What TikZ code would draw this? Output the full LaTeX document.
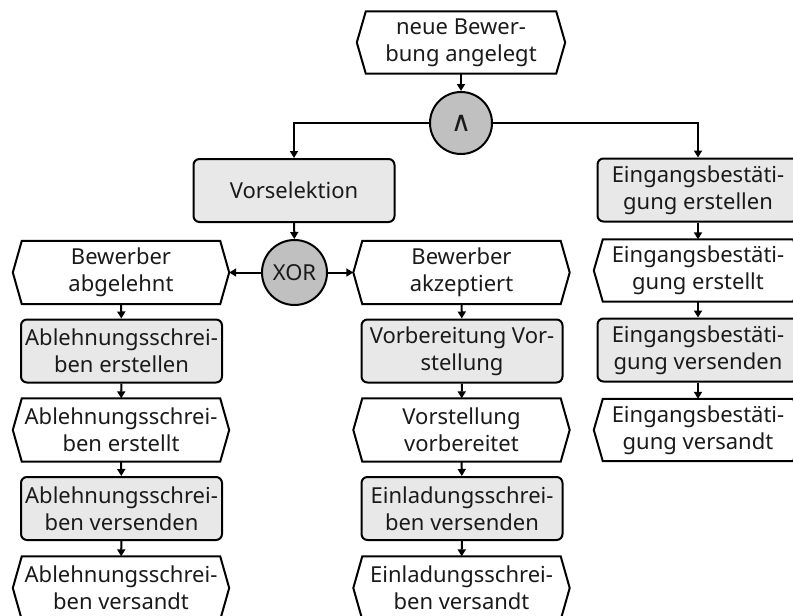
\documentclass[tikz,border=0pt]{standalone}
\usepackage{fontspec}
\setmainfont{Noto Sans}
\newfontfamily\symfont{DejaVu Sans}
\usetikzlibrary{arrows.meta}
\definecolor{boxfill}{HTML}{E8E8E8}
\definecolor{gatefill}{HTML}{C0C0C0}
\definecolor{txt}{HTML}{1A1A1A}
\begin{document}
\begin{tikzpicture}[x=1pt,y=-1pt,
  font=\fontsize{22}{27}\selectfont,
  every node/.style={text=txt, align=center, inner sep=0pt},
  fnbox/.style={draw=black, line width=2pt, fill=boxfill, rounded corners=6pt,
    minimum width=201pt, minimum height=63pt},
  evbox/.style={minimum width=216pt, minimum height=63pt},
  evnarrow/.style={minimum width=208pt, minimum height=62pt},
  gate/.style={circle, draw=black, line width=2pt, fill=gatefill, minimum size=64pt},
  hexline/.style={draw=black, line width=2pt},
  conn/.style={line width=2pt, -{Triangle[length=7pt,width=8pt]}}
]
\useasboundingbox (0,0) rectangle (793,616);

% events (text nodes; hexagon outlines drawn below)
\node[evnarrow] (top) at (461,42.5) {neue Bewer-\\bung angelegt};
\node[evbox] (abgel) at (121,272.5) {Bewerber\\abgelehnt};
\node[evbox] (akz) at (461.5,272.5) {Bewerber\\akzeptiert};
\node[evbox] (aerst) at (121,430) {Ablehnungsschrei-\\ben erstellt};
\node[evbox] (vorb) at (461.5,430) {Vorstellung\\vorbereitet};
\node[evbox] (avers) at (121,588) {Ablehnungsschrei-\\ben versandt};
\node[evbox] (evers) at (461.5,588) {Einladungsschrei-\\ben versandt};
\node[evnarrow] (eerst) at (698,270.5) {Eingangsbestäti-\\gung erstellt};
\node[evnarrow] (egvers) at (698,430) {Eingangsbestäti-\\gung versandt};

\foreach \n in {top,abgel,akz,aerst,vorb,avers,evers,eerst,egvers}{
  \path[hexline] (\n.west) -- ([xshift=9pt]\n.north west) -- ([xshift=-9pt]\n.north east)
    -- (\n.east) -- ([xshift=-9pt]\n.south east) -- ([xshift=9pt]\n.south west) -- cycle;
}

% functions
\node[fnbox] (vor) at (294,190.5) {Vorselektion};
\node[fnbox] (aer) at (121.5,351) {Ablehnungsschrei-\\ben erstellen};
\node[fnbox] (avs) at (121.5,508.5) {Ablehnungsschrei-\\ben versenden};
\node[fnbox] (vbv) at (462,351) {Vorbereitung Vor-\\stellung};
\node[fnbox] (evs) at (462,508.5) {Einladungsschrei-\\ben versenden};
\node[fnbox] (eb1) at (698,190) {Eingangsbestäti-\\gung erstellen};
\node[fnbox] (eb2) at (698,350) {Eingangsbestäti-\\gung versenden};

% gates
\node[gate, minimum size=62pt] (and) at (461,123) {\raisebox{-4pt}{\symfont\fontsize{28}{28}\selectfont ∧}};
\node[gate, minimum size=65pt] (xor) at (294.5,272.5) {XOR};

% connectors
\draw[conn] (top) -- (and);
\draw[conn] (and.west) -| (vor.north);
\draw[conn] (and.east) -| (eb1.north);
\draw[conn] (vor) -- (xor);
\draw[conn] (xor) -- (abgel.east);
\draw[conn] (xor) -- (akz.west);
\draw[conn] (abgel) -- (aer);
\draw[conn] (aer) -- (aerst);
\draw[conn] (aerst) -- (avs);
\draw[conn] (avs) -- (avers);
\draw[conn] (akz) -- (vbv);
\draw[conn] (vbv) -- (vorb);
\draw[conn] (vorb) -- (evs);
\draw[conn] (evs) -- (evers);
\draw[conn] (eb1) -- (eerst);
\draw[conn] (eerst) -- (eb2);
\draw[conn] (eb2) -- (egvers);
\end{tikzpicture}
\end{document}
